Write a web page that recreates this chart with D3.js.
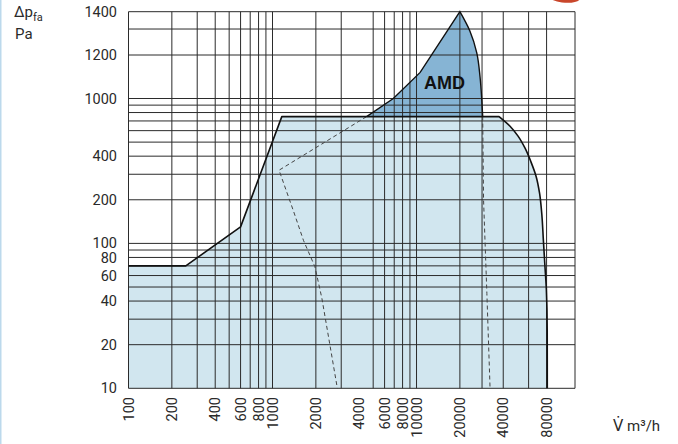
<!DOCTYPE html>
<html><head><meta charset="utf-8">
<script src="https://cdn.jsdelivr.net/npm/d3@7"></script>
<style>body{margin:0;background:#fff}svg{display:block}</style>
</head><body><svg id="c" width="678" height="444"></svg>
<script>
// ---- data ----
const xTicks=[100,200,400,600,800,1000,2000,4000,6000,8000,10000,20000,40000,80000];
const yTicks=[10,20,40,60,80,100,200,400,1000,1200,1400];
const xGrid=[100,200,300,400,500,600,700,800,900,1000,2000,3000,5000,6000,7000,8000,9000,10000,20000,28500,40000,60000,80000,126000];
const yGrid=[10,20,30,40,50,60,70,80,90,100,200,300,400,500,600,700,800,900,1000,1200,1320,1400];
// operating range (light area)
const rangeQ=[100,250,600,1160,37400];
const rangeP=[70,70,130,750,750];
const edgeQ=[37400,44600,50700,56700,62400,67600,71500,74000,76000,77900,79700,80800,80900];
const edgeP=[750,644,550,454,364,291,222,162,105,70,48,25,10];
// AMD area
const amdLeftQ=[4500,6900,10600,20000];
const amdLeftP=[750,1000,1120,1400];
const amdRightQ=[20000,23500,26200,27600,28400,28800];
const amdRightP=[1400,1310,1210,1100,970,750];
// dashed lines
const dashAQ=[4500,1110,1390,1640,1970,2200,2820];
const dashAP=[750,320,170,105,69,42,10];
const dashBQ=[28800,29200,30800,32400];
const dashBP=[750,200,45,10];

// ---- scales ----
const x=d3.scaleLog().domain([100,126000]).range([128.5,575]);
const yLog=d3.scaleLog().domain([10,1000]).range([388.3,98.5]);
const yLin=d3.scaleLinear().domain([1000,1200,1400]).range([98.5,55,11.7]);
const y=v=>v<=1000?yLog(v):yLin(v);

const svg=d3.select("#c");
const zip=(a,b)=>a.map((v,i)=>[v,b[i]]);
const lin=d3.line().x(d=>x(d[0])).y(d=>y(d[1]));
const crv=d3.line().x(d=>x(d[0])).y(d=>y(d[1])).curve(d3.curveMonotoneY);
const joinPaths=(a,b)=>a+b.replace(/^M/,"L");

// decorative page edges
svg.append("rect").attr("x",0).attr("y",0).attr("width",1.5).attr("height",444).attr("fill","#bcd9ec");
svg.append("ellipse").attr("cx",563).attr("cy",-5).attr("rx",18).attr("ry",7.5).attr("fill","#c9462b").attr("transform","rotate(8,563,-5)");

// light area
const rangePts=zip(rangeQ,rangeP), edgePts=zip(edgeQ,edgeP);
const outline=joinPaths(lin(rangePts),crv(edgePts));
const lightFill=lin([[100,10]])+outline.replace(/^M/,"L")+"L"+x(100)+","+y(10)+"Z";
svg.append("path").attr("d",lightFill).attr("fill","#d1e6ef");

// AMD area
const amdL=zip(amdLeftQ,amdLeftP), amdR=zip(amdRightQ,amdRightP);
const amdOutline=joinPaths(lin(amdL),crv(amdR));
svg.append("path").attr("d",amdOutline+"Z").attr("fill","#86b4d4");

// grid
const g=svg.append("g").attr("stroke","#2b2b2b").attr("stroke-width",1);
xGrid.forEach(v=>g.append("line").attr("x1",x(v)).attr("x2",x(v)).attr("y1",y(1400)).attr("y2",y(10)));
yGrid.forEach(v=>g.append("line").attr("x1",x(100)).attr("x2",x(126000)).attr("y1",y(v)).attr("y2",y(v)));

// dashed lines
[[dashAQ,dashAP],[dashBQ,dashBP]].forEach(([q,p])=>{
  svg.append("path").attr("d",lin(zip(q,p))).attr("fill","none")
    .attr("stroke","#444").attr("stroke-width",1).attr("stroke-dasharray","4,3");
});

// outlines
svg.append("path").attr("d",outline).attr("fill","none").attr("stroke","#111").attr("stroke-width",1.6).attr("stroke-linejoin","round");
svg.append("path").attr("d",amdOutline).attr("fill","none").attr("stroke","#111").attr("stroke-width",1.4).attr("stroke-linejoin","miter");

// labels
const font="Roboto, 'DejaVu Sans', sans-serif";
svg.append("g").selectAll("text").data(yTicks).join("text")
  .attr("x",117).attr("y",d=>y(d)).attr("dy","0.35em").attr("text-anchor","end")
  .attr("font-family",font).attr("font-size",14.5).attr("fill","#2a2a2a").text(d=>d);
svg.append("g").selectAll("text").data(xTicks).join("text")
  .attr("transform",d=>`translate(${x(d)},397) rotate(-90)`).attr("dy","0.36em").attr("text-anchor","end")
  .attr("font-family",font).attr("font-size",14.5).attr("fill","#2a2a2a").text(d=>d);

const t=svg.append("text").attr("x",14).attr("y",17).attr("font-family",font).attr("font-size",15).attr("fill","#2a2a2a");
t.append("tspan").text("Δp");
t.append("tspan").attr("font-size",11).attr("dy",4).text("fa");
svg.append("text").attr("x",15).attr("y",38.5).attr("font-family",font).attr("font-size",15).attr("fill","#2a2a2a").text("Pa");
svg.append("text").attr("x",613).attr("y",431).attr("font-family",font).attr("font-size",15).attr("fill","#2a2a2a").text("V\u0307 m³/h");
svg.append("text").attr("x",424).attr("y",89).attr("font-family","'Liberation Sans', Arial, sans-serif").attr("font-weight","bold").attr("font-size",18).attr("fill","#111").text("AMD");
</script></body></html>
